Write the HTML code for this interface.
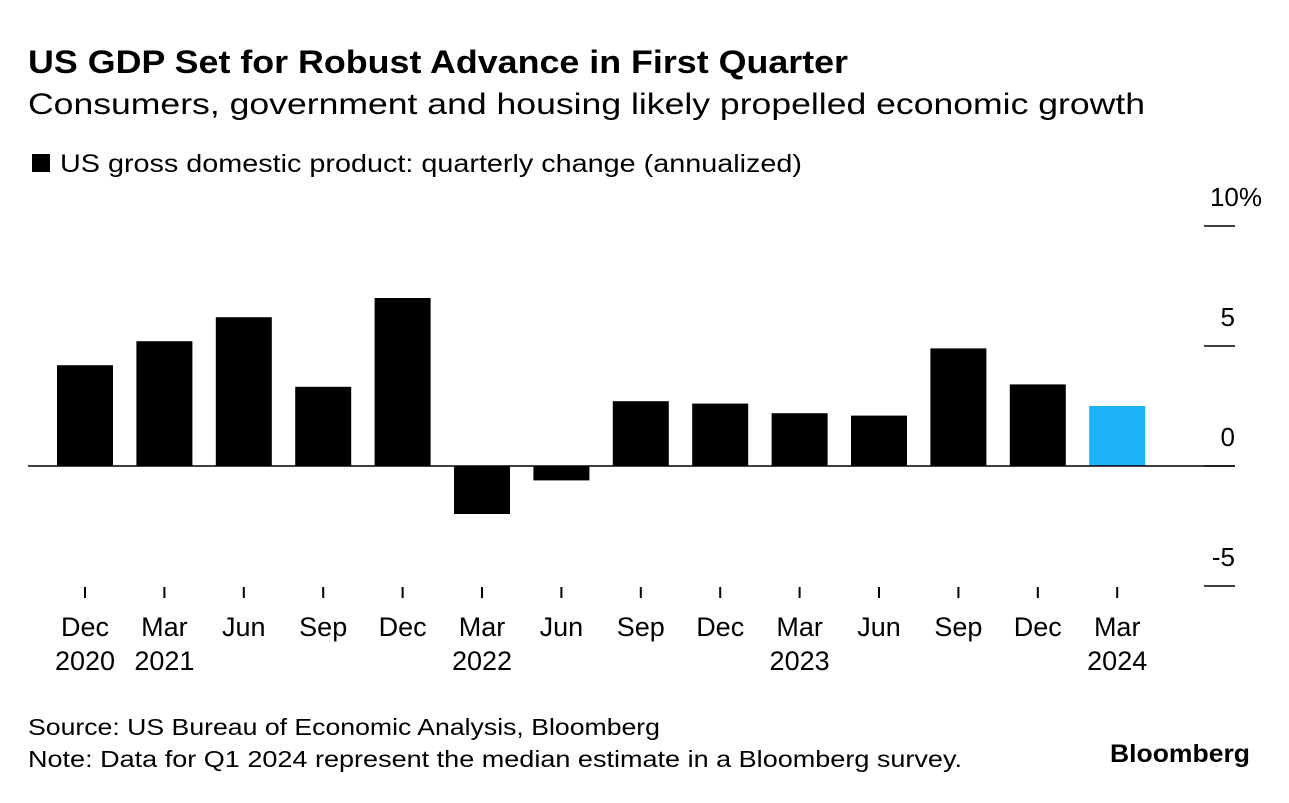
<!DOCTYPE html>
<html><head><meta charset="utf-8"><style>
body{margin:0;background:#fff;width:1289px;height:798px;overflow:hidden;font-family:"Liberation Sans",sans-serif;color:#000}
</style></head><body>
<svg width="1289" height="798" font-family="Liberation Sans, sans-serif">
<text x="28" y="73" font-size="32" font-weight="bold" textLength="820" lengthAdjust="spacingAndGlyphs">US GDP Set for Robust Advance in First Quarter</text>
<text x="28" y="114" font-size="30" textLength="1117" lengthAdjust="spacingAndGlyphs">Consumers, government and housing likely propelled economic growth</text>
<rect x="32" y="154" width="18" height="18" fill="#000"/>
<text x="60" y="172" font-size="25" textLength="742" lengthAdjust="spacingAndGlyphs">US gross domestic product: quarterly change (annualized)</text>
<g id="bars"></g><g id="axes"></g>
<text x="28" y="735" font-size="23" textLength="632" lengthAdjust="spacingAndGlyphs">Source: US Bureau of Economic Analysis, Bloomberg</text>
<text x="28" y="767" font-size="23" textLength="934" lengthAdjust="spacingAndGlyphs">Note: Data for Q1 2024 represent the median estimate in a Bloomberg survey.</text>
<text x="1250" y="762" font-size="25" font-weight="bold" text-anchor="end" textLength="140" lengthAdjust="spacingAndGlyphs">Bloomberg</text>
</svg>
<script>
const months=["Dec","Mar","Jun","Sep","Dec","Mar","Jun","Sep","Dec","Mar","Jun","Sep","Dec","Mar"];
const years=["2020","2021","","","","2022","","","","2023","","","","2024"];
const values=[4.2,5.2,6.2,3.3,7.0,-2.0,-0.6,2.7,2.6,2.2,2.1,4.9,3.4,2.5];
const yTicks=[10,5,0,-5];
const yTickLabels=["10%","5","0","-5"];
const ns="http://www.w3.org/2000/svg";
const y=v=>466-v*24;
const x=i=>85+i*79.4;
function mk(t,a,p){const e=document.createElementNS(ns,t);for(const k in a)e.setAttribute(k,a[k]);p.appendChild(e);return e;}
const bars=document.getElementById('bars'),axes=document.getElementById('axes');
values.forEach((v,i)=>{
 const r=mk('rect',{x:x(i)-28,y:Math.min(y(v),y(0)),width:56,height:Math.abs(y(v)-y(0)),fill:i===values.length-1?'#1fb1fa':'#000'},bars);
 
 
 const tk=mk('line',{x1:x(i),x2:x(i),y1:587,y2:598,stroke:'#000','stroke-width':2},axes);
 
 
 const t=mk('text',{x:x(i),y:636,'font-size':27,'text-anchor':'middle'},axes);t.textContent=months[i];
 
 
 if(years[i]){const t2=mk('text',{x:x(i),y:670,'font-size':27,'text-anchor':'middle'},axes);t2.textContent=years[i];
 
 }
});
const zl=mk('line',{x1:28,x2:1235,y1:y(0),y2:y(0),stroke:'#000','stroke-width':1.5},axes);


yTicks.forEach((v,i)=>{
 const l=mk('line',{x1:1204,x2:1235,y1:y(v),y2:y(v),stroke:'#000','stroke-width':1.5},axes);
 
 
 const t=mk('text',{x:1235,y:y(v)-20,'font-size':26,'text-anchor':'end'},axes);t.textContent=yTickLabels[i];
 if(i===0)t.setAttribute('x',1262);
 
 
});
</script>
</body></html>
